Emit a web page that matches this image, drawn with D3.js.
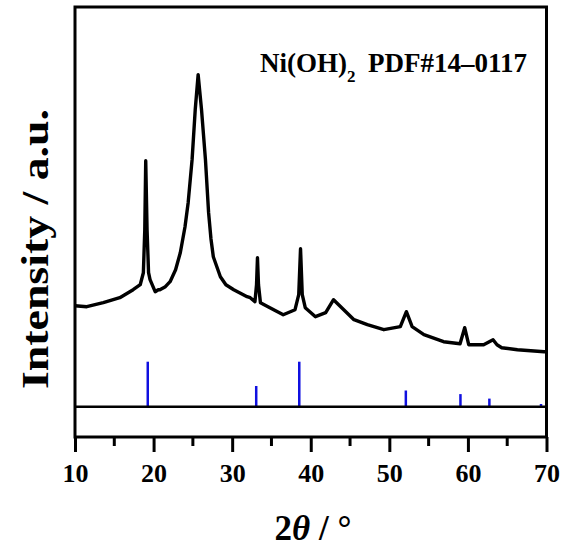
<!DOCTYPE html>
<html>
<head>
<meta charset="utf-8">
<script src="https://cdn.jsdelivr.net/npm/d3@7"></script>
<style>
  body { margin: 0; background: #fff; }
  text { font-family: "Liberation Serif", "Times New Roman", serif; font-weight: bold; }
</style>
</head>
<body>
<script>
var width = 564;
var height = 549;

// measured pattern, [2theta, intensity (a.u.)]
var twoTheta = [10.0, 11.5, 13.6, 15.7, 17.4, 18.3, 18.7, 18.88, 19.0, 19.17, 19.36, 19.55, 20.2, 20.6, 20.8,
                21.5, 22.1, 22.8, 23.4, 24.0, 24.4, 24.9, 25.3, 25.67, 26.1, 26.6, 27.0, 27.3, 27.6, 28.5,
                29.2, 30.2, 31.9, 32.3, 32.9, 33.1, 33.22, 33.35, 33.6, 34.8, 36.5, 38.0, 38.47, 38.7, 38.92,
                39.3, 40.6, 41.9, 42.9, 44.2, 45.5, 47.2, 49.3, 51.4, 52.17, 52.9, 54.4, 56.9, 59.0, 59.59,
                60.1, 62.0, 63.2, 63.7, 64.3, 66.3, 69.7, 70.0];
var intensity = [101, 100, 104, 109, 117, 122, 134, 177, 246, 177, 134, 127, 115, 117, 117,
                 120, 125, 137, 154, 180, 204, 247, 297, 332, 297, 247, 194, 168, 150, 130,
                 122, 117, 110, 109, 105, 122, 149, 122, 104, 99, 92, 97, 112, 158, 112,
                 99, 90, 94, 107, 97, 87, 82, 77, 80, 95, 80, 72, 65, 63, 79,
                 62, 62, 67, 62, 59, 57, 55, 55];

// PDF#14-0117 reference lines
var refPos = [19.26, 33.06, 38.54, 52.10, 59.05, 62.73, 69.30];
var refInt = [100, 46, 100, 36, 28, 18, 6];

var xTicks = [10, 20, 30, 40, 50, 60, 70];
var xMinor = [15, 25, 35, 45, 55, 65];

var mLeft = 75, mRight = 546.5, mTop = 7, mBottom = 437, split = 406.7;

var x = d3.scaleLinear().domain([10, 70]).range([mLeft, mRight]);
var y = d3.scaleLinear().domain([0, 400]).range([split, split - 400]);
var yRef = d3.scaleLinear().domain([0, 100]).range([split, split - 45]);

var svg = d3.select("body")
            .append("svg")
            .attr("width", width)
            .attr("height", height);

var pts = twoTheta.map(function(d, i) { return [d, intensity[i]]; });

var line = d3.line()
             .x(function(d) { return x(d[0]); })
             .y(function(d) { return y(d[1]); });

svg.append("path")
   .datum(pts)
   .attr("d", line)
   .attr("fill", "none")
   .attr("stroke", "#000")
   .attr("stroke-width", 3.4)
   .attr("stroke-linejoin", "round");

// reference sticks
svg.selectAll("line.ref")
   .data(refPos)
   .enter()
   .append("line")
   .attr("class", "ref")
   .attr("x1", function(d) { return x(d); })
   .attr("x2", function(d) { return x(d); })
   .attr("y1", split)
   .attr("y2", function(d, i) { return yRef(refInt[i]); })
   .attr("stroke", "#1010e0")
   .attr("stroke-width", 2.5);

// frame
svg.append("rect")
   .attr("x", mLeft).attr("y", mTop)
   .attr("width", mRight - mLeft).attr("height", mBottom - mTop)
   .attr("fill", "none")
   .attr("stroke", "#000")
   .attr("stroke-width", 3);

svg.append("line")
   .attr("x1", mLeft).attr("x2", mRight)
   .attr("y1", split).attr("y2", split)
   .attr("stroke", "#000")
   .attr("stroke-width", 2.5);

// x axis ticks
var xAxis = d3.axisBottom(x).tickValues(xTicks).tickSize(15).tickPadding(12).tickSizeOuter(0);
var gx = svg.append("g").attr("transform", "translate(0," + mBottom + ")").call(xAxis);
gx.select(".domain").remove();
gx.selectAll(".tick line").attr("stroke-width", 3);
gx.selectAll(".tick text")
  .attr("font-size", 26)
  .attr("font-family", "Liberation Serif, serif")
  .attr("font-weight", "bold")
  .attr("fill", "#000");

svg.selectAll("line.minor")
   .data(xMinor)
   .enter()
   .append("line")
   .attr("class", "minor")
   .attr("x1", function(d) { return x(d); })
   .attr("x2", function(d) { return x(d); })
   .attr("y1", mBottom)
   .attr("y2", mBottom + 9)
   .attr("stroke", "#000")
   .attr("stroke-width", 3);

// axis titles
var xt = svg.append("text")
   .attr("x", 313)
   .attr("y", 540)
   .attr("text-anchor", "middle")
   .attr("font-size", 35);
xt.append("tspan").text("2");
xt.append("tspan").attr("font-style", "italic").text("θ");
xt.append("tspan").text(" / °");

svg.append("text")
   .attr("transform", "translate(48,249) rotate(-90)")
   .attr("text-anchor", "middle")
   .attr("font-size", 38)
   .attr("textLength", 280)
   .attr("lengthAdjust", "spacingAndGlyphs")
   .text("Intensity / a.u.");

// legend label
var lab = svg.append("text")
   .attr("x", 260)
   .attr("y", 72)
   .attr("font-size", 27);
lab.append("tspan").text("Ni(OH)");
lab.append("tspan").attr("font-size", 17).attr("dy", 10).text("2");

svg.append("text")
   .attr("x", 527)
   .attr("y", 72)
   .attr("text-anchor", "end")
   .attr("font-size", 27)
   .text("PDF#14–0117");
</script>
</body>
</html>
